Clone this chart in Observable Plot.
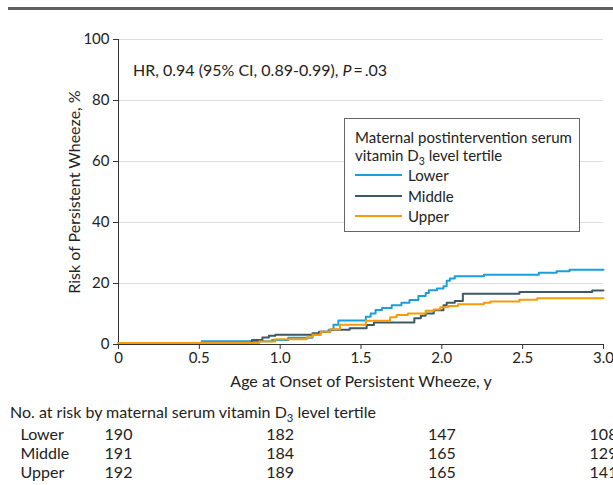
<!DOCTYPE html>
<html><head><meta charset="utf-8">
<script src="https://cdn.jsdelivr.net/npm/d3@7"></script>
<script src="https://cdn.jsdelivr.net/npm/@observablehq/plot@0.6"></script>
<style>
html,body{margin:0;padding:0;background:#fff;overflow:hidden;width:613px;height:485px}
body{font-family:Lato,"Noto Sans",sans-serif;color:#222}
#wrap{position:relative;width:613px;height:485px}
#wrap svg{position:absolute;left:0;top:0;overflow:visible}
.ov{position:absolute;white-space:nowrap;font-size:16px;color:#222;line-height:18px}
#rule{position:absolute;left:8px;right:0;top:7px;height:3px;background:#606060}
#legend{position:absolute;left:344px;top:118px;width:234px;height:112px;border:1px solid #666;background:#fff;font-size:15px;color:#222}
#legend .t{position:absolute;left:10px;line-height:18px;white-space:nowrap}
#legend .row{position:absolute;left:10px;height:20px;display:flex;align-items:center;white-space:nowrap}
#legend .sw{display:inline-block;width:47px;height:2px;margin-right:6px}
sub{font-size:0.7em;vertical-align:-0.35em;line-height:0}
</style></head>
<body><div id="wrap">
<div id="rule"></div>
</div>
<script>
// Cumulative risk (%) step curves by maternal vitamin D3 tertile
const lowerT = [0, 0.515, 0.95, 1.05, 1.2, 1.25, 1.3, 1.33, 1.36, 1.53, 1.56, 1.59, 1.63, 1.69, 1.75, 1.8, 1.855, 1.9, 1.92, 1.97, 2.01, 2.03, 2.05, 2.08, 2.26, 2.6, 2.71, 2.79, 3.0];
const lowerV = [0.5, 1.1, 1.5, 2.2, 3.2, 4.2, 4.8, 6.5, 7.9, 9.1, 10.2, 11.3, 12.0, 12.9, 13.7, 14.6, 15.9, 16.9, 17.8, 18.4, 19.1, 20.9, 21.6, 22.4, 22.9, 23.5, 24.0, 24.5, 24.5];
const middleT = [0, 0.825, 0.89, 0.93, 0.97, 1.2, 1.24, 1.31, 1.43, 1.535, 1.58, 1.83, 1.87, 1.9, 1.95, 2.01, 2.03, 2.08, 2.13, 2.48, 2.93, 3.0];
const middleV = [0.5, 1.5, 2.3, 2.9, 3.2, 3.7, 4.2, 4.8, 5.3, 6.4, 7.2, 8.6, 9.4, 10.2, 11.2, 12.9, 13.7, 14.3, 16.6, 17.2, 17.7, 17.7];
const upperT = [0, 0.87, 0.97, 1.165, 1.2, 1.25, 1.31, 1.37, 1.53, 1.68, 1.72, 1.79, 1.9, 1.95, 1.99, 2.04, 2.1, 2.26, 2.3, 2.48, 2.59, 3.0];
const upperV = [0.5, 1.0, 1.7, 2.4, 3.2, 4.2, 5.0, 6.5, 7.8, 8.9, 9.7, 10.2, 11.1, 11.5, 12.2, 12.6, 13.2, 13.7, 14.1, 14.7, 15.2, 15.2];

const groups = ["Lower", "Middle", "Upper"];
const groupColors = ["#1a9fdc", "#3d5966", "#f59b0c"];

// Number at risk
const riskTimes = [0, 1, 2, 3];
const lowerRisk = [190, 182, 147, 108];
const middleRisk = [191, 184, 165, 129];
const upperRisk = [192, 189, 165, 141];

const yTicks = [0, 20, 40, 60, 80, 100];
const xTicks = [0, 0.5, 1, 1.5, 2, 2.5, 3];
const xTitle = "Age at Onset of Persistent Wheeze, y";
const yTitle = "Risk of Persistent Wheeze, %";

const seriesT = [lowerT, middleT, upperT];
const seriesV = [lowerV, middleV, upperV];
const curves = groups.flatMap((g, k) => seriesT[k].map((t, i) => ({group: g, t, v: seriesV[k][i]})));
const riskVals = [lowerRisk, middleRisk, upperRisk];
const riskRows = groups.flatMap((g, k) => riskTimes.map((t, i) => ({group: g, row: k, t, n: riskVals[k][i]})));

const chart = Plot.plot({
  width: 613, height: 485,
  marginTop: 39, marginRight: 10, marginBottom: 141, marginLeft: 118,
  style: {fontFamily: "Lato, 'Noto Sans', sans-serif", fontSize: "15px", color: "#333", background: "transparent", overflow: "visible"},
  x: {domain: [0, 3]},
  y: {domain: [0, 100]},
  color: {domain: groups, range: groupColors},
  marks: [
    Plot.gridY(yTicks.slice(1), {stroke: "#dedede", strokeOpacity: 1}),
    Plot.axisY(yTicks, {tickSize: 5, tickPadding: 4, label: null, fontSize: 15, fill: "#222"}),
    Plot.axisX(xTicks, {tickSize: 5, tickPadding: 3, label: null, fontSize: 15, fill: "#222", tickFormat: d => d === 0 ? "0" : d.toFixed(1)}),
    Plot.ruleX([0], {stroke: "#333"}),
    Plot.ruleY([0], {stroke: "#333"}),
    Plot.line(curves, {x: "t", y: "v", z: "group", stroke: "group", curve: "step-after", strokeWidth: 2}),
    Plot.text([xTitle], {frameAnchor: "bottom", dy: 42, fontSize: 16, fill: "#222"}),
    Plot.text([yTitle], {frameAnchor: "left", textAnchor: "middle", rotate: -90, dx: -44, fontSize: 16, fill: "#222"}),
    ...groups.map((g, k) => Plot.text([g], {frameAnchor: "bottom-left", dx: -98, dy: 95 + k * 19, textAnchor: "start", fontSize: 16, fill: "#222"})),
    ...groups.map((g, k) => Plot.text(riskRows.filter(d => d.row === k), {x: "t", text: "n", frameAnchor: "bottom", textAnchor: "middle", dy: 95 + k * 19, fontSize: 16, fill: "#222"}))
  ]
});
const wrap = document.getElementById("wrap");
wrap.insertBefore(chart, wrap.firstChild);

// Annotation, legend, at-risk header
const hr = document.createElement("div");
hr.className = "ov";
hr.style.left = "133px"; hr.style.top = "61px";
hr.innerHTML = "HR, 0.94 (95% CI, 0.89-0.99), <i>P</i>&#8201;=&#8201;.03";
wrap.appendChild(hr);

const hdr = document.createElement("div");
hdr.className = "ov";
hdr.style.left = "10px"; hdr.style.top = "403px";
hdr.innerHTML = "No. at risk by maternal serum vitamin D<sub>3</sub> level tertile";
wrap.appendChild(hdr);

const leg = document.createElement("div");
leg.id = "legend";
leg.innerHTML = '<div class="t" style="top:9px">Maternal postintervention serum</div>' +
  '<div class="t" style="top:27px">vitamin D<sub>3</sub> level tertile</div>' +
  groups.map((g, k) => `<div class="row" style="top:${46 + k * 20.5}px"><span class="sw" style="background:${groupColors[k]}"></span>${g}</div>`).join("");
wrap.appendChild(leg);
</script>
</body></html>
